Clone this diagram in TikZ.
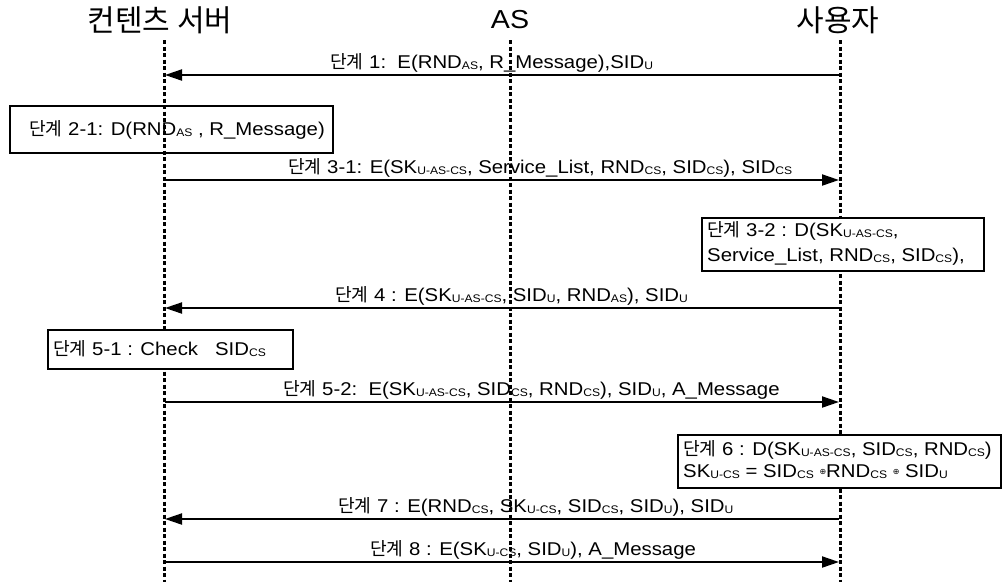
\documentclass[tikz,border=0pt]{standalone}
\usepackage{fontspec}
\setmainfont{Liberation Sans}[FakeStretch=1.1]
\newfontfamily\kr{Noto Sans CJK KR}[Scale=0.98]
\newfontfamily\krh{Noto Sans CJK KR}
\newfontfamily\symf{DejaVu Sans}
\usetikzlibrary{arrows.meta}
\newcommand\dg{{\kr 단계}}
\newcommand\sbs[1]{\raisebox{-0.2ex}{\fontsize{11}{11}\selectfont #1}}
\newcommand\xo{\raisebox{0.25ex}{\symf\fontsize{8}{8}\selectfont ⊕}}
\begin{document}
\begin{tikzpicture}[x=1pt,y=-1pt,
  lifeline/.style={line width=3pt,dash pattern=on 4pt off 2.5pt},
  msg/.style={line width=2pt,-{Triangle[length=17pt,width=11pt]}},
  lbl/.style={anchor=base west,inner sep=0pt,font=\fontsize{18.5}{18.5}\selectfont},
  head/.style={inner sep=0pt,font=\krh\fontsize{30}{30}\selectfont},
  stepbox/.style={draw,line width=2pt,anchor=north west,inner sep=0pt}]
\useasboundingbox (0,0) rectangle (1007,582);
% headers
\node[head] (hcs) at (160,20) {컨텐츠 서버};
\node[head,font=\fontsize{26}{26}\selectfont] (has) at (510,20) {AS};
\node[head] (hu) at (838,20) {사용자};
% lifelines
\coordinate (cst) at (164,40); \coordinate (csb) at (164,582);
\coordinate (ast) at (510,40); \coordinate (asb) at (510,582);
\coordinate (ut) at (840,40); \coordinate (ub) at (840,582);
\draw[lifeline] (cst) -- (csb);
\draw[lifeline] (ast) -- (asb);
\draw[lifeline] (ut) -- (ub);
% message end points
\foreach \n/\y in {1/75,3/180,4/308,5/402,7/519,8/562}{
  \coordinate (c\n) at (165,\y); \coordinate (u\n) at (839,\y);}
% step 1
\draw[msg] (u1) -- (c1);
\node[lbl] (l1) at (330,68) {\dg{} 1:\ \ E(RND\sbs{AS}, R\_Message),SID\sbs{U}};
% step 2-1
\node[stepbox,minimum width=323pt,minimum height=47pt] (b21) at (9,105) {};
\node[lbl] (t21) at (29,135) {\dg{} 2-1: D(RND\sbs{AS} , R\_Message)};
% step 3-1
\draw[msg] (c3) -- (u3);
\node[lbl] (l3) at (288,173) {\dg{} 3-1: E(SK\sbs{U-AS-CS}, Service\_List, RND\sbs{CS}, SID\sbs{CS}), SID\sbs{CS}};
% step 3-2
\node[stepbox,fill=white,minimum width=282pt,minimum height=53pt] (b32) at (701,217) {};
\node[lbl] (t32a) at (707,236) {\dg{} 3-2 : D(SK\sbs{U-AS-CS},};
\node[lbl] (t32b) at (707,261) {Service\_List, RND\sbs{CS}, SID\sbs{CS}),};
% step 4
\draw[msg] (u4) -- (c4);
\node[lbl] (l4) at (335,301) {\dg{} 4 : E(SK\sbs{U-AS-CS}, SID\sbs{U}, RND\sbs{AS}), SID\sbs{U}};
% step 5-1
\node[stepbox,fill=white,minimum width=245pt,minimum height=39pt] (b51) at (47,329) {};
\node[lbl] (t51) at (53,355) {\dg{} 5-1 : Check\ \ \ SID\sbs{CS}};
% step 5-2
\draw[msg] (c5) -- (u5);
\node[lbl] (l5) at (283,395) {\dg{} 5-2:\ \ E(SK\sbs{U-AS-CS}, SID\sbs{CS}, RND\sbs{CS}), SID\sbs{U}, A\_Message};
% step 6
\node[stepbox,fill=white,minimum width=323pt,minimum height=53pt] (b6) at (677,434) {};
\node[lbl] (t6a) at (683,455) {\dg{} 6 : D(SK\sbs{U-AS-CS}, SID\sbs{CS}, RND\sbs{CS})};
\node[lbl] (t6b) at (683,477) {SK\sbs{U-CS} = SID\sbs{CS} \xo RND\sbs{CS} \xo{} SID\sbs{U}};
% step 7
\draw[msg] (u7) -- (c7);
\node[lbl] (l7) at (338,512) {\dg{} 7 : E(RND\sbs{CS}, SK\sbs{U-CS}, SID\sbs{CS}, SID\sbs{U}), SID\sbs{U}};
% step 8
\draw[msg] (c8) -- (u8);
\node[lbl] (l8) at (370,555) {\dg{} 8 : E(SK\sbs{U-CS}, SID\sbs{U}), A\_Message};
\end{tikzpicture}
\end{document}
